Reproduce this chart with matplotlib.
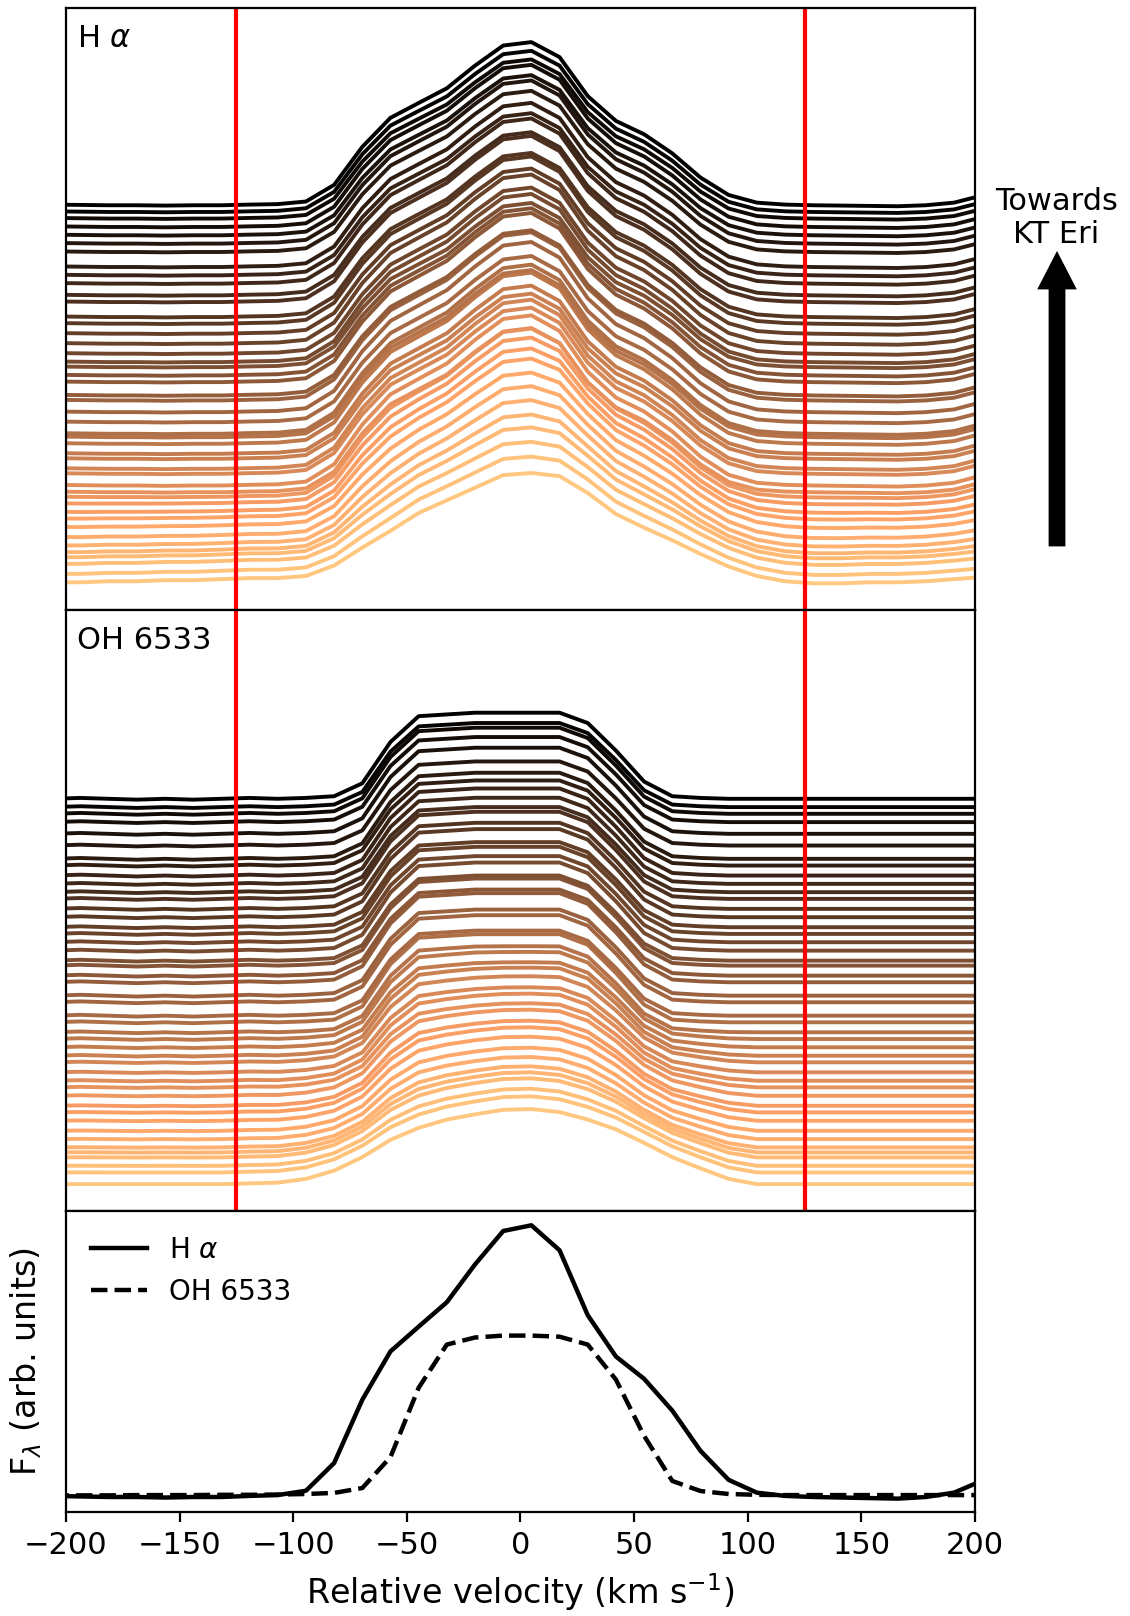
import numpy as np
import matplotlib.pyplot as plt
from matplotlib.patches import FancyArrow

# velocity grid of the spectra (km/s)
vel = [-206.0, -193.6, -181.2, -168.8, -156.4, -144.0, -131.6, -119.2, -106.8,
       -94.4, -82.0, -69.6, -57.2, -44.8, -32.4, -20.0, -7.6, 4.8, 17.2, 29.6,
       42.0, 54.4, 66.8, 79.2, 91.6, 104.0, 116.4, 128.8, 141.2, 153.6, 166.0,
       178.4, 190.8, 203.2]

# mean profiles (bottom panel)
ha_mean = [0.004, 0.002, 0.0, 0.0, -0.002, 0.0, 0.0, 0.004, 0.007,
           0.023, 0.125, 0.358, 0.536, 0.627, 0.717, 0.856, 0.979, 1.0, 0.908, 0.669,
           0.517, 0.435, 0.318, 0.170, 0.063, 0.016, 0.004, 0.0, -0.002, -0.004, -0.006,
           0.0, 0.016, 0.06]
oh_mean = [0.006, 0.006, 0.006, 0.007, 0.007, 0.007, 0.008, 0.008, 0.009,
           0.011, 0.015, 0.033, 0.147, 0.402, 0.561, 0.587, 0.594, 0.594, 0.590, 0.561,
           0.432, 0.225, 0.059, 0.022, 0.011, 0.008, 0.007, 0.007, 0.007, 0.007, 0.007,
           0.007, 0.007, 0.007]

# profile shapes of the faintest (lowest) rows and the OH top row
ha_faint = [0.0, 0.0, 0.01, 0.01, 0.02, 0.02, 0.03, 0.04, 0.04,
            0.06, 0.16, 0.33, 0.49, 0.66, 0.78, 0.90, 1.02, 1.04, 1.01, 0.85,
            0.65, 0.52, 0.40, 0.27, 0.15, 0.06, 0.01, -0.01, -0.01, 0.0, 0.0,
            0.01, 0.03, 0.05]
oh_top = [0.0, 0.01, 0.0, -0.01, 0.0, -0.01, 0.0, 0.01, 0.0,
          0.01, 0.03, 0.18, 0.66, 0.96, 0.98, 1.0, 1.0, 1.0, 1.0, 0.88,
          0.56, 0.20, 0.03, 0.01, 0.0, 0.0, 0.0, 0.0, 0.0, 0.0, 0.0,
          0.0, 0.0, 0.0]
oh_faint = [0.0, 0.0, 0.0, 0.0, 0.0, 0.0, 0.0, 0.01, 0.02,
            0.07, 0.18, 0.36, 0.59, 0.75, 0.86, 0.93, 0.99, 1.0, 0.96, 0.86,
            0.73, 0.55, 0.36, 0.21, 0.07, 0.0, 0.0, 0.0, 0.0, 0.0, 0.0,
            0.0, 0.0, 0.0]

# continuum level and line amplitude of each row (bottom -> top)
ha_level = [2.73, 3.57, 4.57, 5.23, 5.73, 6.40, 7.23, 8.23, 9.07, 9.73,
            10.57, 11.23, 11.73, 12.40, 13.57, 14.07, 15.07, 15.57, 16.57, 17.23,
            17.57, 18.73, 19.73, 20.90, 21.40, 22.73, 23.40, 24.23, 24.73, 25.57,
            26.57, 27.57, 28.57, 29.23, 30.73, 31.40, 32.57, 33.40, 34.23, 35.73,
            36.57, 37.40, 38.23, 39.07, 39.73, 40.40]
ha_amp = [10.5, 11.3, 11.8, 12.6, 13.4, 14.2, 14.8, 15.2, 15.8, 16.2,
          16.5, 16.8, 16.4, 17.0, 16.6, 16.9, 16.5, 16.8, 17.1, 16.7,
          16.9, 16.6, 17.0, 16.8, 16.5, 16.9, 16.7, 16.4, 16.8, 16.6,
          16.9, 16.5, 16.7, 16.4, 16.6, 16.3, 16.5, 16.2, 16.4, 16.1,
          16.3, 16.0, 16.2, 15.9, 16.1, 16.3]
oh_level = [2.70, 3.87, 4.53, 5.37, 5.87, 6.37, 7.20, 8.03, 9.03, 9.87,
            10.53, 11.53, 12.37, 13.03, 13.87, 14.87, 15.53, 16.37, 17.20, 17.87,
            18.87, 19.53, 20.87, 21.53, 22.87, 23.53, 24.53, 25.03, 26.03, 26.87,
            27.70, 28.37, 29.37, 30.20, 31.20, 31.87, 32.70, 33.53, 34.53, 35.20,
            36.53, 37.70, 38.87, 39.70, 40.37, 41.20]
oh_amp = [7.5, 7.6, 7.7, 7.9, 8.0, 8.1, 8.2, 8.3, 8.4, 8.5,
          8.5, 8.6, 8.4, 8.7, 8.5, 8.6, 8.8, 8.5, 8.7, 8.6,
          8.8, 8.5, 8.7, 8.6, 8.9, 8.6, 8.7, 8.5, 8.8, 8.6,
          8.7, 8.5, 8.8, 8.6, 8.7, 8.5, 8.6, 8.7, 8.5, 8.6,
          8.4, 8.6, 8.5, 8.6, 8.4, 8.6]

v = np.array(vel)
nrow = len(ha_level)
cmap = plt.get_cmap('copper')

fig = plt.figure(figsize=(5.65, 8.08), dpi=200)
gs = fig.add_gridspec(3, 1, height_ratios=[2, 2, 1], hspace=0,
                      left=0.0584, right=0.8628, top=0.995, bottom=0.0644)
ax1 = fig.add_subplot(gs[0])
ax2 = fig.add_subplot(gs[1], sharex=ax1)
ax3 = fig.add_subplot(gs[2], sharex=ax1)

for i in range(nrow):
    col = cmap(1 - i / (nrow - 1))
    w = min(1.0, i / 12)
    prof = w * np.array(ha_mean) + (1 - w) * np.array(ha_faint)
    ax1.plot(v, ha_level[i] + ha_amp[i] * prof, color=col, lw=1.4)
    w = min(1.0, i / 20)
    prof = w * np.array(oh_top) + (1 - w) * np.array(oh_faint)
    ax2.plot(v, oh_level[i] + oh_amp[i] * prof, color=col, lw=1.4)

for ax in (ax1, ax2):
    ax.axvline(-125, color='red', lw=1.5)
    ax.axvline(125, color='red', lw=1.5)
    ax.set_ylim(0, 60.1)
    ax.tick_params(bottom=False, labelbottom=False, left=False, labelleft=False)

ax1.text(0.012, 0.935, r'H $\alpha$', transform=ax1.transAxes, fontsize=11)
ax2.text(0.012, 0.935, 'OH 6533', transform=ax2.transAxes, fontsize=11)

ax3.plot(v, ha_mean, 'k-', lw=1.6, label=r'H $\alpha$')
ax3.plot(v, oh_mean, 'k--', lw=1.6, label='OH 6533')
ax3.set_ylim(-0.055, 1.052)
ax3.set_xlim(-200, 200)
ax3.set_xticks([-200, -150, -100, -50, 0, 50, 100, 150, 200])
ax3.tick_params(left=False, labelleft=False, labelsize=11)
ax3.set_xlabel(r'Relative velocity (km s$^{-1}$)', fontsize=12)
ax3.set_ylabel(r'F$_\lambda$ (arb. units)', fontsize=12, labelpad=8)
ax3.legend(loc='upper left', frameon=False, fontsize=10)

# arrow towards KT Eri
arrow = FancyArrow(5.285, 5.355, 0, 1.455, width=0.07, head_width=0.175,
                   head_length=0.17, length_includes_head=True, color='k',
                   transform=fig.dpi_scale_trans)
fig.add_artist(arrow)
fig.text(0.935, 0.865, 'Towards\nKT Eri', ha='center', va='center', fontsize=11)

fig.savefig('out.png')
